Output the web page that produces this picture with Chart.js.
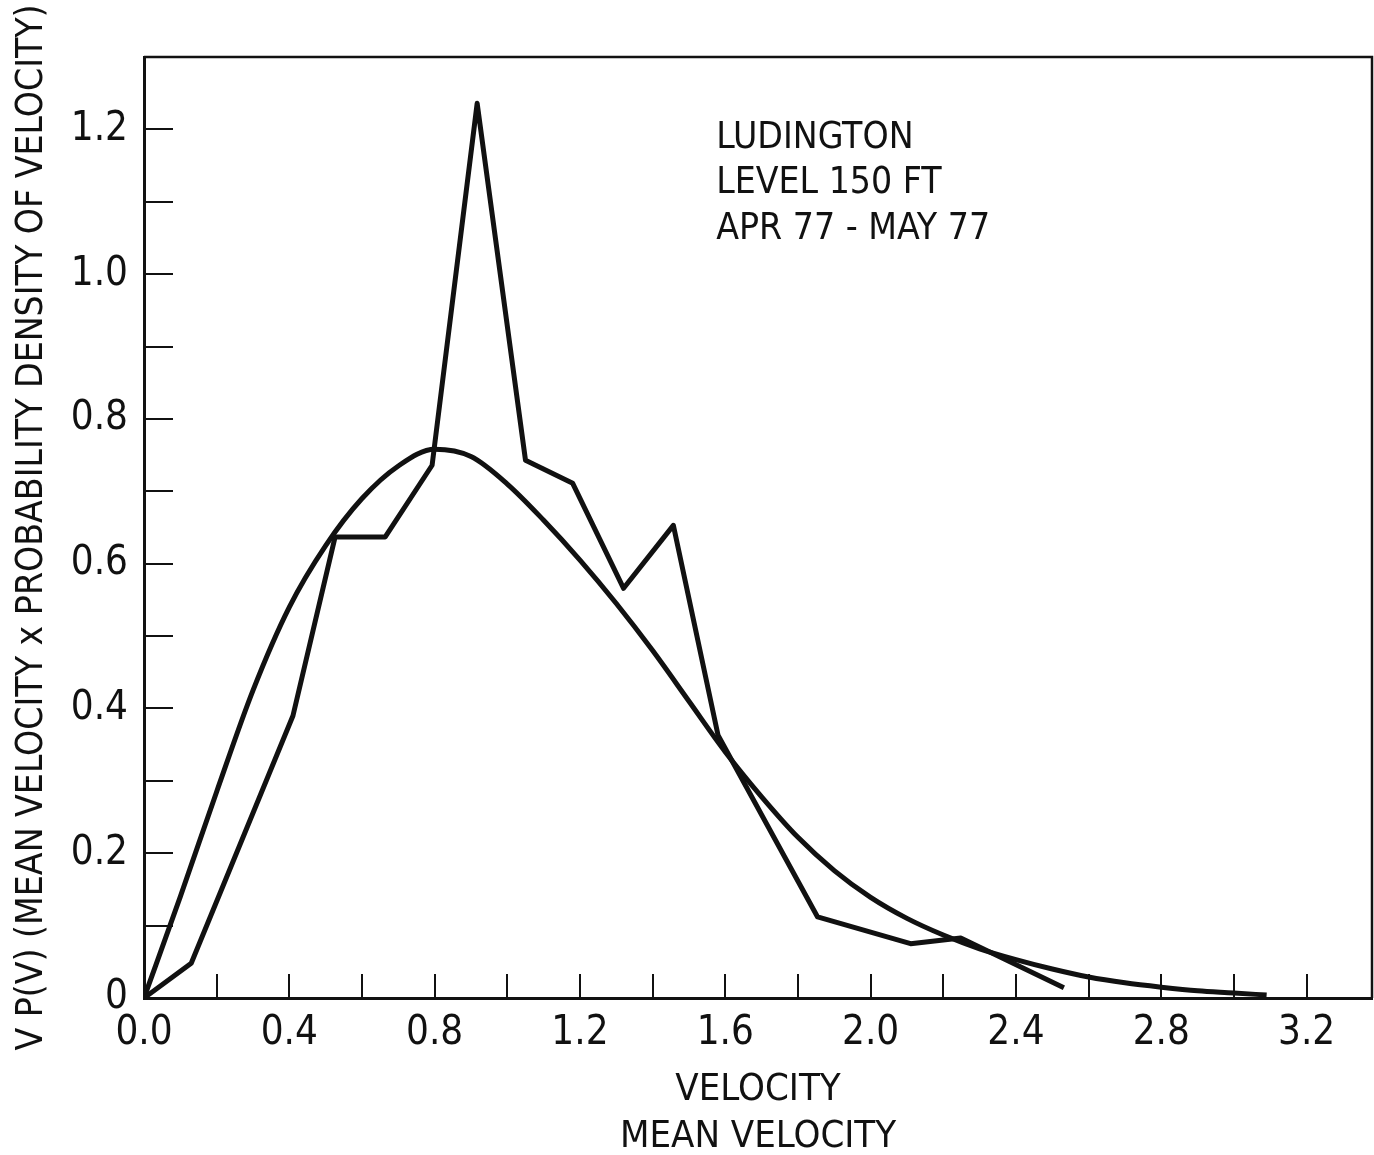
<!DOCTYPE html>
<html>
<head>
<meta charset="utf-8">
<script src="https://cdn.jsdelivr.net/npm/chart.js@4.4.1/dist/chart.umd.min.js"></script>
<style>
  html, body { margin: 0; background: #fff; }
</style>
</head>
<body>
<canvas id="chart" width="1374" height="1155"></canvas>
<script>
const observedV  = [0, 0.13, 0.41, 0.526, 0.664, 0.793, 0.917, 1.05, 1.18, 1.32, 1.457, 1.58, 1.854, 2.11, 2.248, 2.532];
const observedVP = [0, 0.048, 0.39, 0.637, 0.637, 0.736, 1.236, 0.743, 0.711, 0.566, 0.653, 0.363, 0.112, 0.075, 0.083, 0.014];

// fitted distribution (smooth curve)
const fittedV  = [0, 0.1, 0.2, 0.3, 0.4, 0.5, 0.6, 0.7, 0.8, 0.9, 1.0, 1.1, 1.2, 1.3, 1.4, 1.5, 1.6, 1.7, 1.8, 1.9, 2.0, 2.1, 2.2, 2.3, 2.4, 2.5, 2.6, 2.7, 2.8, 2.9, 3.0, 3.09];
const fittedVP = [0, 0.14, 0.285, 0.425, 0.54, 0.625, 0.69, 0.735, 0.758, 0.748, 0.71, 0.66, 0.605, 0.545, 0.48, 0.41, 0.34, 0.278, 0.222, 0.176, 0.139, 0.11, 0.087, 0.068, 0.053, 0.04, 0.029, 0.021, 0.015, 0.01, 0.007, 0.004];

const yTitle = 'V P(V) (MEAN VELOCITY x PROBABILITY DENSITY OF VELOCITY)';
const xTitle = ['VELOCITY', 'MEAN VELOCITY'];
const noteLines = ['LUDINGTON', 'LEVEL 150 FT', 'APR 77 - MAY 77'];

const INK = '#111';
const FONT = "'Liberation Sans Narrow', 'DejaVu Sans Condensed', 'Liberation Sans', sans-serif";

const toPoints = (xs, ys) => xs.map((v, i) => ({ x: v, y: ys[i] }));
const isMult = (v, step) => Math.abs(v / step - Math.round(v / step)) < 1e-6;

// inward tick marks, top/right frame and the station note
const frame = {
  id: 'frame',
  beforeDatasetsDraw(chart) {
    const { ctx, chartArea: a, scales: { x, y } } = chart;
    ctx.save();
    ctx.strokeStyle = INK;
    ctx.lineWidth = 2;
    ctx.beginPath();
    x.ticks.forEach(t => {
      if (t.value === 0) return;
      const px = Math.round(x.getPixelForValue(t.value));
      ctx.moveTo(px, a.bottom);
      ctx.lineTo(px, a.bottom - 24);
    });
    y.ticks.forEach(t => {
      if (t.value === 0) return;
      const py = Math.round(y.getPixelForValue(t.value));
      ctx.moveTo(a.left, py);
      ctx.lineTo(a.left + 29, py);
    });
    ctx.stroke();
    ctx.lineWidth = 2.5;
    ctx.beginPath();
    ctx.moveTo(a.left, a.top);
    ctx.lineTo(a.right, a.top);
    ctx.lineTo(a.right, a.bottom);
    ctx.stroke();
    ctx.restore();
  },
  afterDraw(chart) {
    const { ctx, scales: { x, y } } = chart;
    ctx.save();
    ctx.fillStyle = INK;
    ctx.font = `37px ${FONT}`;
    ctx.textBaseline = 'middle';
    const nx = x.getPixelForValue(1.575);
    noteLines.forEach((line, i) => {
      ctx.fillText(line, nx, y.getPixelForValue(1.188 - i * 0.063));
    });
    ctx.restore();
  }
};

Chart.defaults.font.family = FONT;
Chart.defaults.color = INK;

new Chart(document.getElementById('chart'), {
  type: 'scatter',
  data: {
    datasets: [
      {
        data: toPoints(observedV, observedVP),
        showLine: true,
        borderColor: INK,
        borderWidth: 5,
        pointRadius: 0,
        tension: 0,
        borderJoinStyle: 'round',
      },
      {
        data: toPoints(fittedV, fittedVP),
        showLine: true,
        borderColor: INK,
        borderWidth: 5,
        pointRadius: 0,
        cubicInterpolationMode: 'monotone',
      },
    ],
  },
  options: {
    responsive: false,
    animation: false,
    layout: { padding: { top: 57, right: 2, left: 0, bottom: 0 } },
    plugins: { legend: { display: false }, tooltip: { enabled: false } },
    scales: {
      x: {
        type: 'linear',
        min: 0,
        max: 3.38,
        afterFit: s => { s.height = 157; },
        grid: { display: false, drawTicks: false },
        border: { display: true, color: INK, width: 3 },
        ticks: {
          stepSize: 0.2,
          includeBounds: false,
          autoSkip: false,
          maxRotation: 0,
          padding: 12,
          font: { size: 40 },
          color: INK,
          callback: v => isMult(v, 0.4) ? (Math.round(v * 10) / 10).toFixed(1) : '',
        },
        title: {
          display: true,
          text: xTitle,
          font: { size: 38, lineHeight: 1.25 },
          color: INK,
          padding: { top: 0, bottom: -6 },
        },
      },
      y: {
        type: 'linear',
        min: 0,
        max: 1.3,
        afterFit: s => { s.width = 144; },
        afterBuildTicks: s => { s.ticks = s.ticks.filter(t => t.value < 1.25); },
        grid: { display: false, drawTicks: false },
        border: { display: true, color: INK, width: 3 },
        ticks: {
          stepSize: 0.1,
          autoSkip: false,
          padding: 16,
          font: { size: 40 },
          color: INK,
          callback: v => v === 0 ? '0' : (isMult(v, 0.2) ? (Math.round(v * 10) / 10).toFixed(1) : ''),
        },
        title: {
          display: true,
          text: yTitle,
          font: { size: 37, lineHeight: 1.2 },
          color: INK,
          padding: { top: 10, bottom: 0 },
        },
      },
    },
  },
  plugins: [frame],
});
</script>
</body>
</html>
